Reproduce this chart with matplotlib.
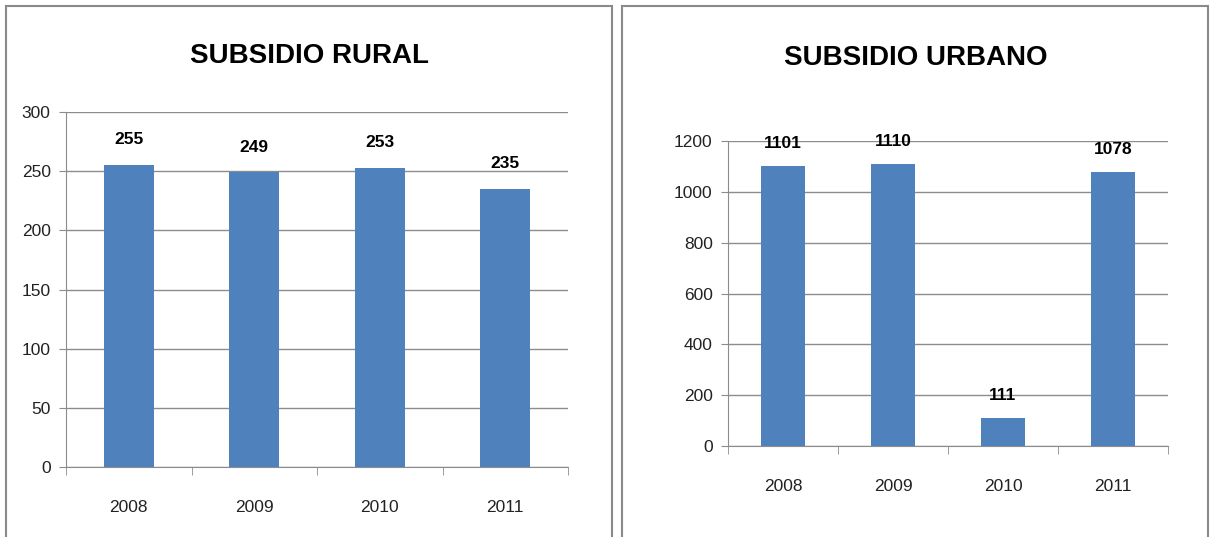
import numpy as np
import matplotlib.pyplot as plt
from matplotlib.patches import Rectangle

# data
years = ['2008', '2009', '2010', '2011']
rural = [255, 249, 253, 235]
urbano = [1101, 1110, 111, 1078]

bar_color = '#4F81BD'
grid_color = '#8C8C8C'
plt.rcParams['font.family'] = ['Liberation Sans', 'DejaVu Sans']

fig = plt.figure(figsize=(12.1, 5.37), dpi=100)

# panel frames
for x0, x1 in [(6, 612), (622, 1208)]:
    fig.patches.append(Rectangle((x0 / 1210, -0.05), (x1 - x0) / 1210, 1.05 - 6 / 537,
                                 transform=fig.transFigure, fill=False,
                                 edgecolor='#8A8A8A', linewidth=1.5))


def draw(rect, values, ymax, step, title, title_xy, label_pad):
    ax = fig.add_axes(rect)
    x = np.arange(len(values))
    ax.bar(x, values, width=0.4, color=bar_color, zorder=3)
    ax.set_xlim(-0.5, len(values) - 0.5)
    ax.set_ylim(0, ymax)
    ax.set_yticks(np.arange(0, ymax + 1, step))
    ax.set_xticks(x)
    ax.set_xticklabels(years)
    ax.set_xticks(np.arange(-0.5, len(values), 1), minor=True)
    ax.tick_params(axis='x', which='major', length=0, pad=24, labelsize=12.5, labelcolor='#222222')
    ax.tick_params(axis='x', which='minor', length=6, color=grid_color, direction='out')
    ax.tick_params(axis='y', length=5, color=grid_color, labelsize=12.5, labelcolor='#222222', pad=6)
    ax.grid(axis='y', color=grid_color, linewidth=1, zorder=0)
    for s in ['top', 'right']:
        ax.spines[s].set_visible(False)
    for s in ['left', 'bottom']:
        ax.spines[s].set_color(grid_color)
    for xi, v in zip(x, values):
        ax.text(xi, v + label_pad, str(v), ha='center', va='bottom',
                fontsize=12.5, fontweight='bold', color='black', zorder=4)
    fig.text(title_xy[0] / 1210, 1 - title_xy[1] / 537, title, ha='center', va='center',
             fontsize=20, fontweight='bold', color='black')
    return ax


draw([66 / 1210, 1 - 467 / 537, 502 / 1210, 355 / 537], rural, 300, 50,
     'SUBSIDIO RURAL', (310, 56), 15)
draw([728 / 1210, 1 - 446 / 537, 440 / 1210, 305 / 537], urbano, 1200, 200,
     'SUBSIDIO URBANO', (916, 58), 60)

fig.savefig('out.png', dpi=100, facecolor='white')
